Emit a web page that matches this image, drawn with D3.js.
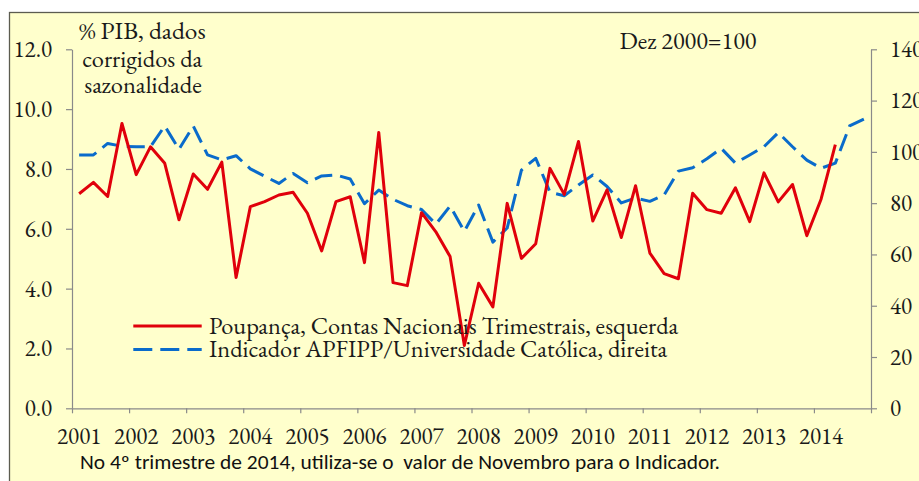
<!DOCTYPE html>
<html><head><meta charset="utf-8">
<script src="https://cdn.jsdelivr.net/npm/d3@7"></script>
<style>
html,body{margin:0;padding:0;background:#fff;}svg{display:block;}
</style>
</head><body><svg id="c" width="919" height="481"></svg>
<script>
// ---- data ----
const years = ["2001","2002","2003","2004","2005","2006","2007","2008","2009","2010","2011","2012","2013","2014"];
const quarters = d3.range(56); // 2001Q1 .. 2014Q4
const poupanca = [7.17,7.55,7.08,9.52,7.81,8.74,8.19,6.30,7.83,7.32,8.23,4.37,6.74,6.91,7.13,7.22,
  6.52,5.26,6.91,7.07,4.87,9.22,4.20,4.10,6.54,5.90,5.07,2.10,4.18,3.39,6.85,5.01,5.50,8.02,7.15,8.92,
  6.26,7.30,5.71,7.44,5.19,4.50,4.33,7.19,6.64,6.52,7.37,6.24,7.87,6.90,7.48,5.77,6.99,8.81];
const indicador = [98.8,98.8,103.3,102.2,102.0,102.0,110.1,101.0,110.1,98.8,96.9,98.5,93.4,90.5,87.7,91.6,
  88.0,90.6,91.0,89.4,79.8,85.1,81.5,79.0,77.5,71.8,78.9,69.0,79.3,64.8,70.3,92.9,97.5,84.3,82.9,87.1,
  91.0,86.5,80.1,82.0,80.7,83.2,92.5,93.8,97.3,101.4,95.6,98.8,102.0,107.5,102.0,96.8,93.6,95.6,110.1,112.8];
const leftTicks = [0,2,4,6,8,10,12];
const rightTicks = [0,20,40,60,80,100,120,140];
const seriesNames = ["Poupança, Contas Nacionais Trimestrais, esquerda","Indicador APFIPP/Universidade Católica, direita"];

// ---- layout ----
const svg = d3.select("#c");
const L = 72, R = 871, T = 49.3, B = 408.3;
const SERIF = "EB Garamond";
const red = "#E0000B", blue = "#0A6BCB", axisCol = "#8a8a8a", txt = "#1a1a1a";

svg.append("rect").attr("x",9.5).attr("y",12.5).attr("width",1000).attr("height",1000)
  .attr("fill","#FFFFCC").attr("stroke","#5c5c50").attr("stroke-width",1.3);

const x = d3.scaleBand().domain(quarters).range([L,R]).paddingInner(0).paddingOuter(0);
const xt = d3.scaleLinear().domain([0,56]).range([L,R]);
const yL = d3.scaleLinear().domain([0,12]).range([B,T]);
const yR = d3.scaleLinear().domain([0,140]).range([B,T]);
const cx = i => x(i) + x.bandwidth()/2;

function serif(sel, size){
  return sel.attr("font-family",SERIF).style("font-family",SERIF).style("font-size",size+"px")
    .style("font-variant-numeric","lining-nums").attr("fill",txt);
}
function styleAxis(g){
  g.attr("font-family",SERIF).attr("font-size",23);
  g.select(".domain").attr("stroke",axisCol).attr("stroke-width",1.2);
  g.selectAll(".tick line").attr("stroke",axisCol).attr("stroke-width",1.2);
  serif(g.selectAll(".tick text"),23);
}

const gl = svg.append("g").attr("transform",`translate(${L},0)`)
  .call(d3.axisLeft(yL).tickValues(leftTicks).tickFormat(d3.format(".1f")).tickSize(6).tickPadding(14).tickSizeOuter(0));
styleAxis(gl);
const gr = svg.append("g").attr("transform",`translate(${R},0)`)
  .call(d3.axisRight(yR).tickValues(rightTicks).tickFormat(d3.format("d")).tickSize(6).tickPadding(13).tickSizeOuter(0));
styleAxis(gr);
const gx = svg.append("g").attr("transform",`translate(0,${B})`)
  .call(d3.axisBottom(xt).tickValues(d3.range(0,57,4)).tickFormat("").tickSize(5).tickSizeOuter(0));
styleAxis(gx);

serif(svg.append("g").selectAll("text").data(years).join("text")
  .attr("x",(d,i)=>cx(i*4)).attr("y",443.5).attr("text-anchor","middle").text(d=>d), 23);

// ---- lines ----
const lineL = d3.line().x((d,i)=>cx(i)).y(d=>yL(d));
const lineR = d3.line().x((d,i)=>cx(i)).y(d=>yR(d));
svg.append("path").datum(indicador).attr("d",lineR).attr("fill","none")
  .attr("stroke",blue).attr("stroke-width",3).attr("stroke-dasharray","18,8").attr("stroke-linejoin","round");
svg.append("path").datum(poupanca).attr("d",lineL).attr("fill","none")
  .attr("stroke",red).attr("stroke-width",3).attr("stroke-linejoin","round");

// ---- texts ----
const titleLines = [["% PIB, dados",142.3,39.3,126.7],["corrigidos da",142.3,66.5,120],["sazonalidade",143,92.7,117.4]];
serif(svg.append("g").selectAll("text").data(titleLines).join("text")
  .attr("x",d=>d[1]).attr("y",d=>d[2]).attr("text-anchor","middle")
  .attr("textLength",d=>d[3]).attr("lengthAdjust","spacingAndGlyphs").text(d=>d[0]), 23.5);

serif(svg.append("text").attr("x",688).attr("y",49.3).attr("text-anchor","middle")
  .attr("textLength",137).attr("lengthAdjust","spacingAndGlyphs").text("Dez 2000=100"), 23.5);

// legend
const leg = svg.append("g");
const legY = [326, 349.5];
const legW = [469.3, 458.3];
leg.selectAll("line").data(seriesNames).join("line")
  .attr("x1",133.3).attr("x2",201.7).attr("y1",(d,i)=>legY[i]).attr("y2",(d,i)=>legY[i])
  .attr("stroke",(d,i)=>i?blue:red).attr("stroke-width",3)
  .attr("stroke-dasharray",(d,i)=>i?"19,8":null);
serif(leg.selectAll("text").data(seriesNames).join("text")
  .attr("x",209).attr("y",(d,i)=>legY[i]+7.5)
  .attr("textLength",(d,i)=>legW[i]).attr("lengthAdjust","spacingAndGlyphs").text(d=>d), 23.5);

svg.append("text").attr("x",80).attr("y",469)
  .attr("textLength",640).attr("lengthAdjust","spacingAndGlyphs")
  .attr("fill","#111").attr("font-family","Carlito").style("font-family","Carlito").style("font-size","19.5px").style("white-space","pre")
  .text("No 4º trimestre de 2014, utiliza-se o  valor de Novembro para o Indicador.");
</script></body></html>
